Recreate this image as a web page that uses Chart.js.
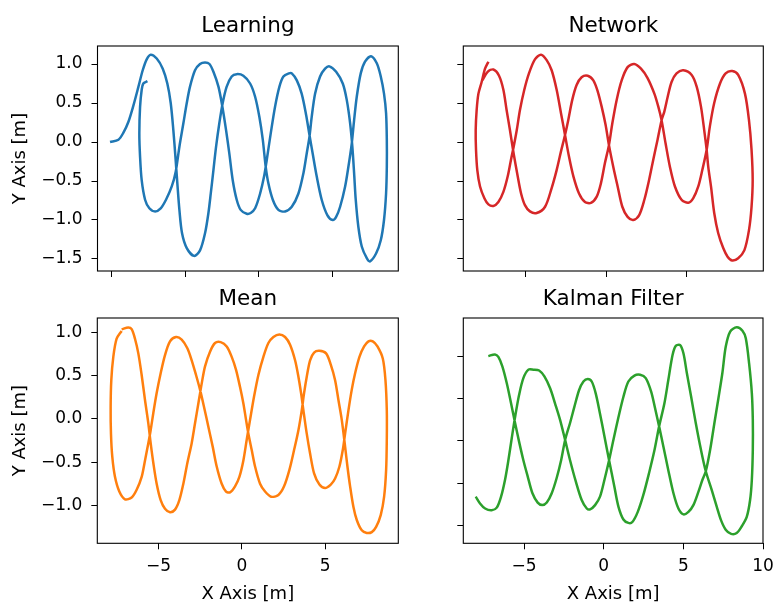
<!DOCTYPE html>
<html><head><meta charset="utf-8">
<script src="https://cdn.jsdelivr.net/npm/chart.js@4"></script>
<style>
html,body{margin:0;padding:0;background:#fff;overflow:hidden;width:775px;height:603px;}
canvas{position:absolute;}
</style></head><body>
<canvas id="c0" width="410" height="280" style="left:0px;top:0px"></canvas>
<canvas id="c1" width="365" height="280" style="left:410px;top:0px"></canvas>
<canvas id="c2" width="410" height="323" style="left:0px;top:280px"></canvas>
<canvas id="c3" width="365" height="323" style="left:410px;top:280px"></canvas>
<script>
// ---------- data ----------
const panelTitles = ['Learning', 'Network', 'Mean', 'Kalman Filter'];
const xAxisLabel = 'X Axis [m]';
const yAxisLabel = 'Y Axis [m]';

const learningX = [-10.11,-9.54,-9.20,-8.86,-8.52,-8.18,-7.89,-7.62,-7.35,
 -6.94,-6.53,-6.22,-5.99,-5.81,-5.67,-5.54,-5.40,-5.22,-4.90,-4.41,
 -4.00,-3.66,-3.43,-3.27,-3.09,-2.91,-2.69,-2.46,-2.19,-1.85,-1.51,
 -1.06,-0.60,-0.26,0.03,0.26,0.46,0.64,0.94,1.32,1.77,
 2.23,2.68,3.02,3.24,3.43,3.58,3.81,4.15,4.49,4.78,
 5.24,5.69,5.96,6.19,6.34,6.46,6.57,6.75,6.98,7.32,7.54,
 7.95,8.27,8.49,8.63,8.68,8.68,8.63,8.49,8.27,8.00,7.61,
 7.20,6.91,6.64,6.46,6.30,6.07,5.85,5.51,5.24,5.01,
 4.65,4.26,3.92,3.65,3.43,3.20,2.90,2.57,2.23,2.04,
 1.66,1.39,1.09,0.80,0.53,0.35,0.08,-0.26,-0.56,-0.83,
 -1.24,-1.51,-1.78,-2.01,-2.23,-2.48,-2.75,-3.09,-3.36,-3.66,
 -4.00,-4.34,-4.68,-4.90,-5.13,-5.40,-5.65,-5.92,-6.31,-6.67,-7.05,
 -7.44,-7.73,-7.96,-8.07,-8.12,-8.07,-7.96,-7.85,-7.57];
const learningY = [0.00,0.03,0.12,0.26,0.47,0.71,0.92,1.06,1.12,
 1.07,0.94,0.75,0.50,0.15,-0.19,-0.53,-0.87,-1.17,-1.36,-1.46,
 -1.39,-1.17,-0.91,-0.66,-0.36,-0.06,0.24,0.50,0.71,0.84,0.87,
 0.85,0.75,0.58,0.32,0.03,-0.32,-0.53,-0.74,-0.87,-0.89,
 -0.83,-0.66,-0.40,-0.15,0.07,0.32,0.62,0.84,0.94,0.97,
 0.90,0.75,0.54,0.24,-0.06,-0.40,-0.74,-1.09,-1.34,-1.49,-1.53,
 -1.43,-1.26,-1.00,-0.66,-0.32,0.03,0.37,0.62,0.84,1.01,1.10,
 1.03,0.88,0.58,0.28,-0.02,-0.32,-0.57,-0.83,-0.96,-1.00,
 -0.94,-0.74,-0.44,-0.15,0.09,0.35,0.62,0.79,0.88,0.88,
 0.84,0.71,0.45,0.11,-0.23,-0.44,-0.66,-0.85,-0.91,-0.92,
 -0.87,-0.74,-0.49,-0.15,0.15,0.45,0.71,0.90,1.00,1.02,
 1.00,0.92,0.71,0.50,0.24,-0.06,-0.38,-0.57,-0.74,-0.85,-0.89,
 -0.85,-0.74,-0.49,-0.19,0.11,0.45,0.67,0.75,0.78];

const networkX = [-7.33,-7.54,-7.75,-7.95,-8.06,-8.12,-8.10,-8.02,-7.85,-7.58,-7.33,-7.02,
 -6.71,-6.40,-6.13,-5.93,-5.76,-5.57,-5.37,-5.10,-4.81,-4.44,-4.06,
 -3.71,-3.40,-3.09,-2.82,-2.57,-2.32,-2.05,-1.70,-1.33,-0.96,
 -0.60,-0.34,-0.09,0.16,0.37,0.64,0.95,1.32,1.73,
 2.15,2.56,2.98,3.23,3.43,3.68,3.95,4.26,4.67,5.09,
 5.40,5.71,5.96,6.23,6.43,6.70,7.06,7.41,7.82,
 8.19,8.61,8.86,9.02,9.09,9.02,8.86,8.57,8.19,7.82,
 7.53,7.26,6.95,6.70,6.50,6.33,6.23,6.08,5.88,5.61,5.30,4.78,
 4.36,4.05,3.81,3.60,3.43,3.18,2.91,2.65,2.36,2.03,1.67,
 1.32,0.99,0.70,0.43,0.16,-0.05,-0.29,-0.54,-0.81,-1.16,
 -1.54,-1.85,-2.12,-2.37,-2.57,-2.82,-3.09,-3.40,-3.81,-4.33,
 -4.75,-5.06,-5.30,-5.51,-5.76,-5.99,-6.20,-6.40,-6.67,-7.02,
 -7.38,-7.71];
const networkY = [1.03,0.94,0.77,0.62,0.41,0.15,-0.10,-0.36,-0.57,-0.72,-0.80,-0.82,
 -0.77,-0.64,-0.44,-0.23,-0.06,0.15,0.41,0.67,0.88,1.06,1.12,
 1.05,0.92,0.67,0.37,0.09,-0.19,-0.44,-0.66,-0.77,-0.78,
 -0.70,-0.53,-0.27,-0.04,0.24,0.54,0.79,0.96,1.00,
 0.94,0.82,0.62,0.45,0.28,-0.02,-0.32,-0.57,-0.74,-0.78,
 -0.72,-0.57,-0.36,-0.10,0.20,0.50,0.75,0.88,0.91,
 0.86,0.62,0.28,-0.10,-0.49,-0.83,-1.13,-1.39,-1.49,-1.52,
 -1.47,-1.36,-1.17,-0.91,-0.57,-0.32,-0.10,0.15,0.45,0.71,0.86,0.92,
 0.88,0.77,0.58,0.39,0.28,0.03,-0.23,-0.49,-0.74,-0.94,-1.00,
 -0.96,-0.83,-0.57,-0.32,-0.04,0.22,0.45,0.65,0.79,0.85,
 0.83,0.73,0.54,0.28,0.09,-0.12,-0.36,-0.59,-0.83,-0.91,
 -0.89,-0.81,-0.66,-0.44,-0.15,0.15,0.41,0.67,0.85,0.93,
 0.90,0.79];

const meanX = [-7.21,-7.51,-7.71,-7.83,-7.87,-7.85,-7.77,-7.61,-7.35,-7.01,
 -6.61,-6.31,-6.01,-5.81,-5.61,-5.47,-5.31,-5.11,-4.87,-4.61,-4.31,-3.95,
 -3.61,-3.27,-3.01,-2.75,-2.51,-2.27,-2.01,-1.75,-1.51,-1.21,-0.95,-0.71,
 -0.41,-0.15,0.09,0.29,0.49,0.73,0.99,1.29,1.59,1.89,2.25,
 2.59,2.89,3.19,3.39,3.55,3.69,3.89,4.09,4.33,4.65,4.99,
 5.33,5.59,5.85,6.05,6.19,6.39,6.59,6.79,7.05,7.33,7.59,7.85,
 8.13,8.45,8.61,8.69,8.69,8.65,8.53,8.33,8.05,7.79,7.49,
 7.19,6.89,6.69,6.49,6.33,6.19,5.99,5.79,5.59,5.33,5.05,4.65,
 4.33,4.09,3.89,3.73,3.59,3.39,3.13,2.85,2.53,2.19,1.75,
 1.39,1.09,0.79,0.59,0.39,0.25,0.09,-0.11,-0.35,-0.61,-0.91,-1.27,
 -1.61,-1.91,-2.21,-2.41,-2.61,-2.81,-3.01,-3.27,-3.51,-3.75,-4.01,-4.31,
 -4.61,-4.87,-5.11,-5.31,-5.47,-5.61,-5.81,-6.01,-6.21,-6.41,-6.61,-6.81,
 -7.21];
const meanY = [1.02,0.93,0.72,0.45,0.14,-0.17,-0.44,-0.67,-0.84,-0.93,
 -0.91,-0.82,-0.67,-0.48,-0.28,-0.13,0.07,0.30,0.53,0.74,0.90,0.95,
 0.92,0.82,0.68,0.51,0.34,0.14,-0.09,-0.32,-0.55,-0.75,-0.84,-0.85,
 -0.78,-0.67,-0.48,-0.24,-0.01,0.26,0.51,0.72,0.88,0.95,0.98,
 0.95,0.86,0.68,0.49,0.30,0.10,-0.17,-0.40,-0.63,-0.76,-0.80,
 -0.76,-0.69,-0.55,-0.36,-0.17,0.10,0.34,0.53,0.72,0.84,0.90,0.90,
 0.84,0.70,0.45,0.10,-0.24,-0.59,-0.90,-1.11,-1.25,-1.31,-1.32,
 -1.29,-1.17,-1.02,-0.78,-0.55,-0.32,-0.01,0.22,0.45,0.63,0.76,0.79,
 0.77,0.68,0.49,0.30,0.10,-0.13,-0.36,-0.59,-0.78,-0.88,-0.90,
 -0.84,-0.75,-0.55,-0.36,-0.17,-0.01,0.18,0.37,0.57,0.72,0.84,0.89,
 0.88,0.78,0.61,0.41,0.18,-0.05,-0.28,-0.51,-0.75,-0.94,-1.05,-1.08,
 -1.04,-0.94,-0.75,-0.51,-0.28,-0.05,0.22,0.51,0.76,0.93,1.04,1.06,
 1.04];

const kalmanX = [-8.03,-7.76,-7.44,-7.03,-6.71,-6.44,-6.19,-5.98,-5.77,-5.56,-5.31,-5.04,-4.72,-4.41,
 -4.05,-3.72,-3.36,-3.05,-2.74,-2.42,-2.11,-1.75,-1.38,-1.06,-0.85,
 -0.54,-0.23,0.05,0.34,0.61,0.93,1.24,1.55,1.93,2.29,
 2.64,2.98,3.23,3.48,3.75,4.06,4.38,4.69,5.01,
 5.32,5.63,5.95,6.20,6.41,6.68,6.95,7.20,7.45,7.66,7.94,8.35,
 8.71,8.92,9.13,9.30,9.36,9.36,9.30,9.19,8.98,8.67,8.35,8.00,
 7.66,7.37,7.10,6.78,6.41,6.11,5.78,5.49,5.22,5.01,4.80,
 4.52,4.32,4.06,3.81,3.48,3.19,2.85,2.49,2.14,1.80,1.55,
 1.24,0.93,0.67,0.34,0.05,-0.23,-0.50,-0.75,-1.00,
 -1.27,-1.54,-1.84,-2.11,-2.42,-2.67,-2.95,-3.26,-3.57,-3.85,
 -4.14,-4.47,-4.77,-5.04,-5.31,-5.56,-5.81,-6.08,-6.36,-6.61,-6.82,-7.24];
const kalmanY = [-0.66,-0.74,-0.80,-0.82,-0.79,-0.66,-0.46,-0.23,0.03,0.28,0.54,0.74,0.84,0.84,
 0.83,0.76,0.62,0.44,0.25,0.01,-0.23,-0.48,-0.70,-0.80,-0.81,
 -0.76,-0.66,-0.46,-0.23,0.01,0.28,0.52,0.70,0.77,0.78,
 0.74,0.58,0.38,0.17,-0.07,-0.35,-0.62,-0.80,-0.87,
 -0.84,-0.76,-0.60,-0.46,-0.36,-0.11,0.21,0.50,0.80,1.11,1.29,1.34,
 1.30,1.21,0.91,0.56,0.25,-0.11,-0.46,-0.70,-0.90,-1.01,-1.09,-1.10,
 -1.05,-0.94,-0.78,-0.58,-0.36,-0.11,0.21,0.52,0.80,1.03,1.13,
 1.12,1.01,0.72,0.44,0.17,-0.11,-0.38,-0.64,-0.84,-0.96,-0.97,
 -0.93,-0.78,-0.54,-0.23,0.05,0.32,0.56,0.70,0.73,
 0.70,0.60,0.40,0.21,0.01,-0.23,-0.44,-0.62,-0.73,-0.76,
 -0.73,-0.62,-0.42,-0.23,-0.01,0.21,0.44,0.68,0.88,0.99,1.02,1.00];

const topYTicks = [1.0, 0.5, 0.0, -0.5, -1.0, -1.5];
const topYTickLabels = ['1.0', '0.5', '0.0', '\u22120.5', '\u22121.0', '\u22121.5'];
const bottomLeftYTicks = [1.0, 0.5, 0.0, -0.5, -1.0];
const bottomLeftYTickLabels = ['1.0', '0.5', '0.0', '\u22120.5', '\u22121.0'];
const bottomRightYTicks = [1.0, 0.5, 0.0, -0.5, -1.0];
const learningXTicks = [-10, -5, 0, 5];
const networkXTicks = [-5, 0, 5];
const meanXTicks = [-5, 0, 5];
const meanXTickLabels = ['\u22125', '0', '5'];
const kalmanXTicks = [-5, 0, 5, 10];
const kalmanXTickLabels = ['\u22125', '0', '5', '10'];

const seriesColors = ['#1f77b4', '#d62728', '#ff7f0e', '#2ca02c'];

// ---------- chart ----------
Chart.defaults.font.family = "'DejaVu Sans', sans-serif";
Chart.defaults.color = '#000';

const framePlugin = {
  id: 'frame',
  afterDatasetsDraw(chart) {
    const a = chart.chartArea, ctx = chart.ctx;
    ctx.save();
    ctx.strokeStyle = '#000';
    ctx.lineWidth = 1.1;
    ctx.strokeRect(a.left, a.top, a.right - a.left, a.bottom - a.top);
    ctx.restore();
  }
};

function zip(xs, ys) { return xs.map((x, i) => ({x: x, y: ys[i]})); }

function makePanel(p) {
  const gridOpts = {display: true, drawOnChartArea: false, drawTicks: true, tickLength: 6, color: '#000', lineWidth: 1};
  new Chart(document.getElementById(p.id), {
    type: 'scatter',
    data: {datasets: [{
      data: zip(p.xs, p.ys), showLine: true, borderColor: p.color, backgroundColor: p.color,
      borderWidth: 2.5, pointRadius: 0, pointHoverRadius: 0, tension: 0.3, fill: false
    }]},
    plugins: [framePlugin],
    options: {
      responsive: false, animation: false, devicePixelRatio: 1,
      events: [],
      layout: {autoPadding: false, padding: {left: 0, right: p.padRight, top: 0, bottom: 0}},
      plugins: {
        legend: {display: false}, tooltip: {enabled: false},
        title: {display: true, text: p.title, fullSize: false, color: '#000',
          font: {size: 21.5, weight: 'normal', lineHeight: 1.2},
          padding: {top: p.titleTop, bottom: p.titleBottom}}
      },
      scales: {
        x: {
          type: 'linear', min: p.xMin, max: p.xMax,
          afterBuildTicks: s => { s.ticks = p.xTicks.map(v => ({value: v})); },
          afterFit: s => { s.height = p.xAxisHeight; s.paddingLeft = 0; s.paddingRight = 0; },
          grid: gridOpts, border: {display: false},
          ticks: {display: !!p.xLabels, autoSkip: false, maxRotation: 0, padding: 7, color: '#000',
            font: {size: 17},
            callback: v => p.xLabels ? p.xLabels[p.xTicks.indexOf(v)] : ''},
          title: {display: !!p.xLabels, text: xAxisLabel, color: '#000',
            font: {size: 18, lineHeight: 1.0}, padding: {top: 0, bottom: 0}}
        },
        y: {
          type: 'linear', min: p.yMin, max: p.yMax,
          afterBuildTicks: s => { s.ticks = p.yTicks.map(v => ({value: v})); },
          afterFit: s => { s.width = p.yAxisWidth; s.paddingTop = 0; s.paddingBottom = 0; },
          grid: gridOpts, border: {display: false},
          ticks: {display: !!p.yLabels, autoSkip: false, padding: 9, color: '#000',
            font: {size: 17},
            callback: v => p.yLabels ? p.yLabels[p.yTicks.indexOf(v)] : ''},
          title: {display: !!p.yLabels, text: yAxisLabel, color: '#000',
            font: {size: 18, lineHeight: 1.0}, padding: {top: 11.5, bottom: 0}}
        }
      }
    }
  });
}

makePanel({id: 'c0', title: panelTitles[0], xs: learningX, ys: learningY, color: seriesColors[0],
  xMin: -10.96, xMax: 9.46, yMin: -1.654, yMax: 1.231,
  xTicks: learningXTicks, xLabels: null, yTicks: topYTicks, yLabels: topYTickLabels,
  yAxisWidth: 97.5, xAxisHeight: 9, padRight: 11.7, titleTop: 13.3, titleBottom: 6.9});
makePanel({id: 'c1', title: panelTitles[1], xs: networkX, ys: networkY, color: seriesColors[1],
  xMin: -8.89, xMax: 9.75, yMin: -1.654, yMax: 1.231,
  xTicks: networkXTicks, xLabels: null, yTicks: topYTicks, yLabels: null,
  yAxisWidth: 53.3, xAxisHeight: 9, padRight: 11.7, titleTop: 13.3, titleBottom: 6.9});
makePanel({id: 'c2', title: panelTitles[2], xs: meanX, ys: meanY, color: seriesColors[2],
  xMin: -8.67, xMax: 9.38, yMin: -1.440, yMax: 1.170,
  xTicks: meanXTicks, xLabels: meanXTickLabels, yTicks: bottomLeftYTicks, yLabels: bottomLeftYTickLabels,
  yAxisWidth: 97.3, xAxisHeight: 59.7, padRight: 11.7, titleTop: 6.2, titleBottom: 6.0});
makePanel({id: 'c3', title: panelTitles[3], xs: kalmanX, ys: kalmanY, color: seriesColors[3],
  xMin: -8.81, xMax: 10.0, yMin: -1.211, yMax: 1.450,
  xTicks: kalmanXTicks, xLabels: kalmanXTickLabels, yTicks: bottomRightYTicks, yLabels: null,
  yAxisWidth: 53.3, xAxisHeight: 59.7, padRight: 12, titleTop: 6.2, titleBottom: 6.0});
</script>
</body></html>
